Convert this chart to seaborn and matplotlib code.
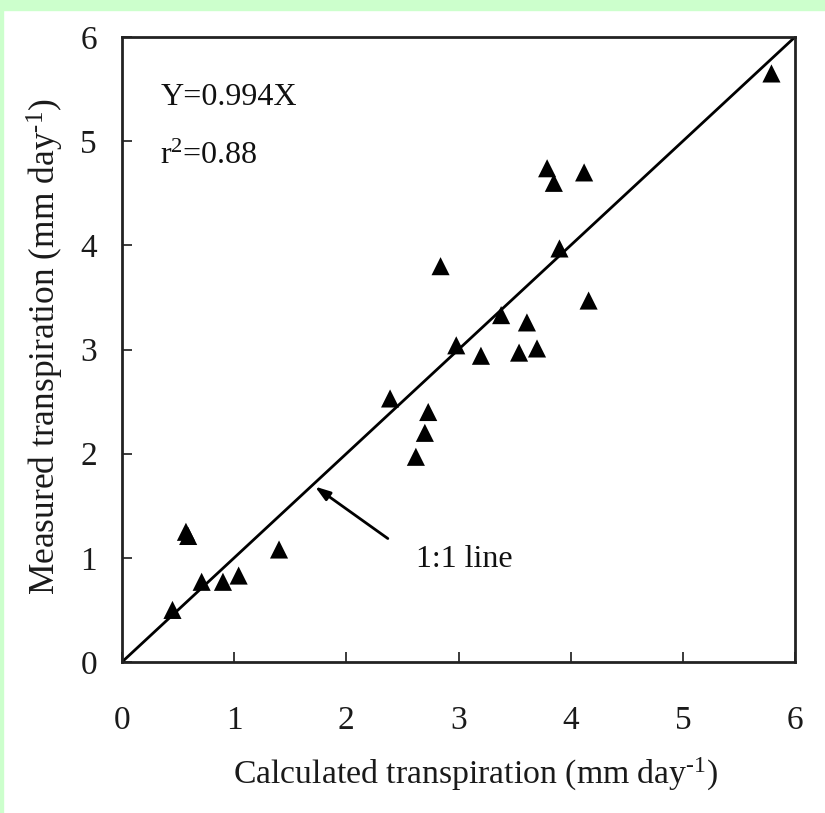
import matplotlib
matplotlib.use("Agg")
import matplotlib.pyplot as plt
import seaborn as sns
import pandas as pd
from matplotlib.patches import Rectangle

calculated = [0.45, 0.71, 0.90, 1.04, 0.57, 0.59, 1.40, 2.39, 2.62, 2.70, 2.73, 2.84,
              2.98, 3.20, 3.38, 3.54, 3.61, 3.70, 3.90, 4.16, 3.79, 3.85, 4.12, 5.79]
measured = [0.50, 0.77, 0.77, 0.83, 1.25, 1.21, 1.08, 2.53, 1.97, 2.20, 2.40, 3.80,
            3.04, 2.94, 3.33, 2.97, 3.26, 3.01, 3.97, 3.47, 4.74, 4.60, 4.70, 5.65]
ticks = [0, 1, 2, 3, 4, 5, 6]
one_to_one = [0, 6]

df = pd.DataFrame({"calc": calculated, "meas": measured})

sns.set_style("ticks")
plt.rcParams["font.family"] = ["Liberation Serif", "DejaVu Serif"]
plt.rcParams["mathtext.fontset"] = "custom"
plt.rcParams["mathtext.rm"] = "Liberation Serif"
plt.rcParams["mathtext.it"] = "Liberation Serif:italic"

fig = plt.figure(figsize=(8.25, 8.13), dpi=100, facecolor="white")
fig.patches.append(Rectangle((0, 1 - 10 / 813), 1, 10 / 813, transform=fig.transFigure,
                             color="#ccffcc", zorder=0))
fig.patches.append(Rectangle((0, 0), 2.5 / 825, 1, transform=fig.transFigure,
                             color="#ccffcc", zorder=0))

ax = fig.add_axes([122 / 825, 1 - 662 / 813, 673 / 825, 625 / 813])
ax.set_facecolor("white")

sns.lineplot(x=one_to_one, y=one_to_one, ax=ax, color="black", linewidth=2.0)
sns.scatterplot(data=df, x="calc", y="meas", ax=ax, marker="^", s=170,
                color="black", edgecolor="none", zorder=3)

ax.set_xlim(0, 6)
ax.set_ylim(0, 6)
ax.set_xticks(ticks)
ax.set_yticks(ticks)
ax.tick_params(axis="x", direction="in", length=7, width=1.2, labelsize=24, pad=31, colors="#1a1a1a")
ax.tick_params(axis="y", direction="in", length=7, width=1.2, labelsize=24, pad=18, colors="#1a1a1a")
for s in ax.spines.values():
    s.set_visible(True)
    s.set_linewidth(2.0)
    s.set_color("#222222")

ax.set_xlabel("Calculated transpiration (mm day$^{\\text{-1}}$)", fontsize=24.3, color="#1a1a1a")
ax.set_ylabel("Measured transpiration (mm day$^{\\text{-1}}$)", fontsize=25.5, color="#1a1a1a")
ax.xaxis.set_label_coords(0.525, -0.150)
ax.yaxis.set_label_coords(-0.083, 0.505)

ax.text(0.34, 5.42, "Y=0.994X", fontsize=23, va="center", ha="left", color="#111111")
ax.text(0.34, 4.85, "r$^{\\mathregular{2}}$=0.88", fontsize=23, va="center", ha="left", color="#111111")

ax.annotate("", xy=(1.70, 1.70), xytext=(2.39, 1.17),
            arrowprops=dict(arrowstyle="-|>,head_length=0.9,head_width=0.3", color="black", lw=2.0))
ax.text(2.62, 0.98, "1:1 line", fontsize=23, va="center", ha="left", color="#111111")

fig.savefig("out.png", dpi=100, facecolor="white")
